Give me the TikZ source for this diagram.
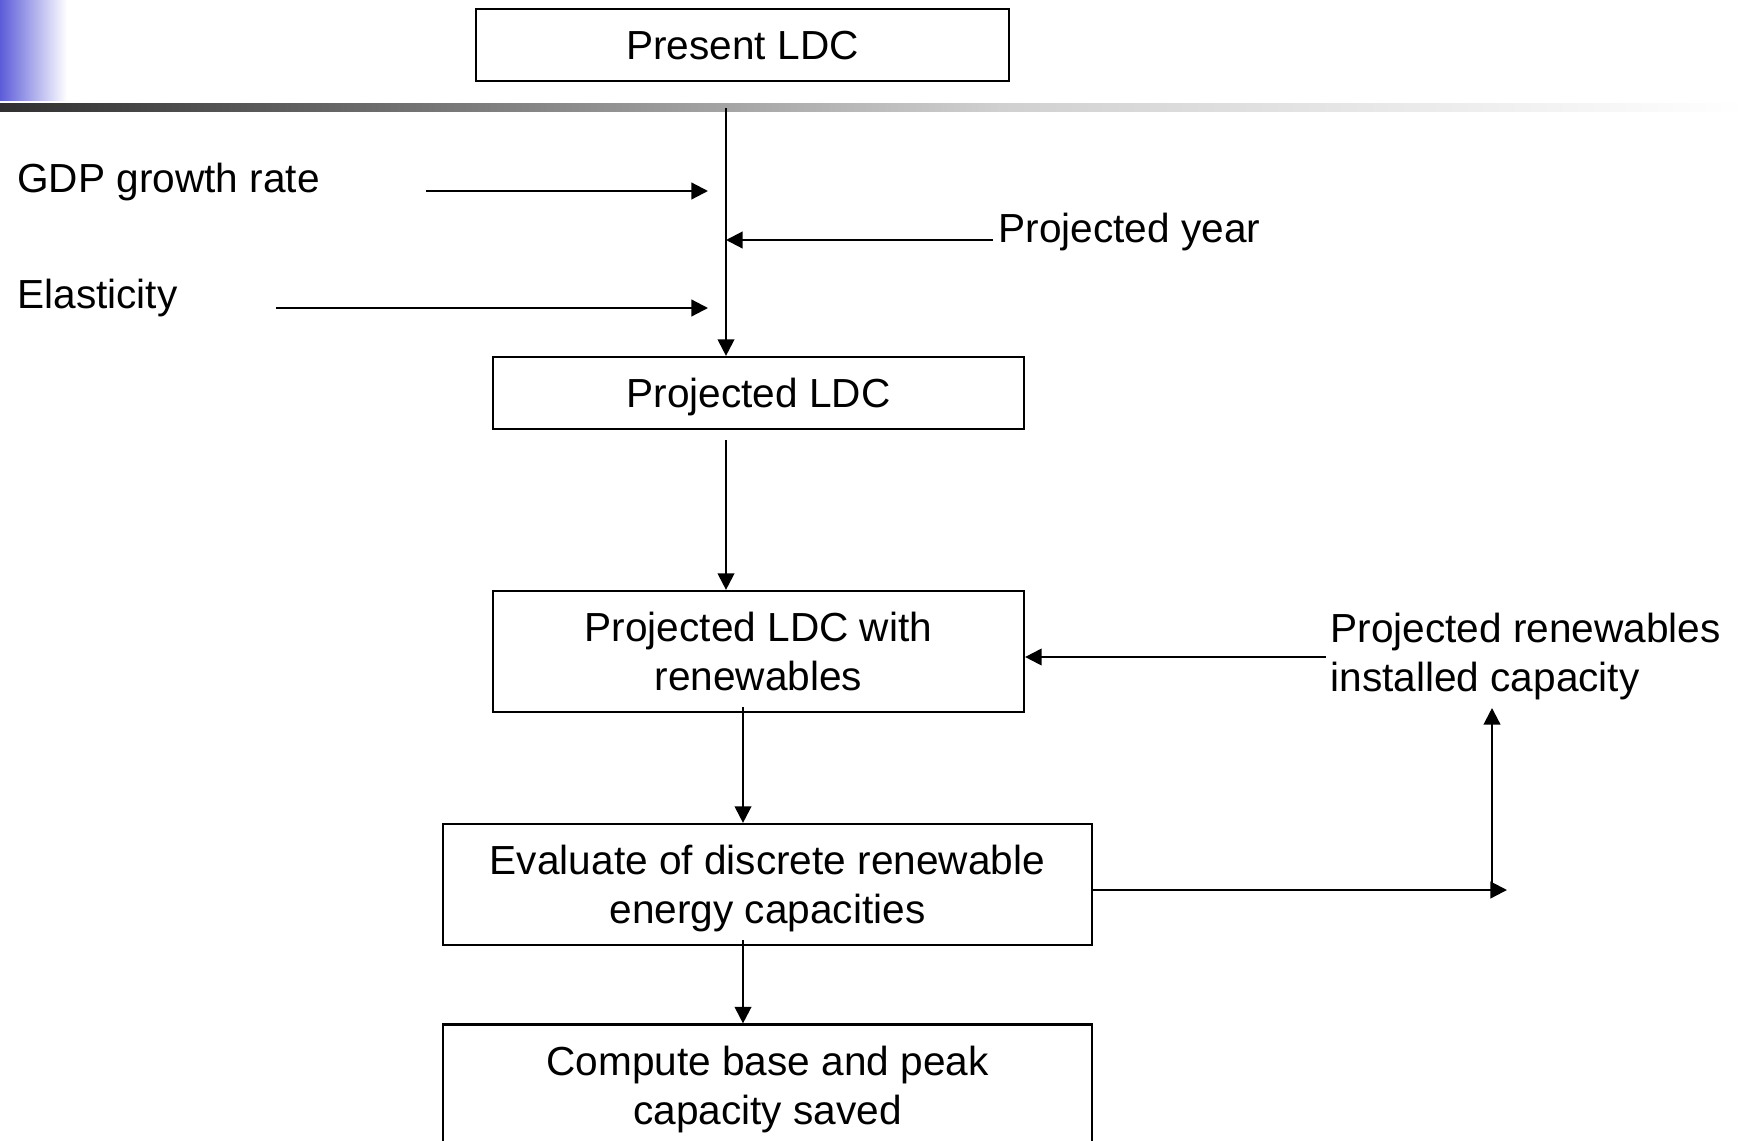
\documentclass[tikz,border=0pt]{standalone}
\usepackage{fontspec}
\setmainfont{Liberation Sans}
\usetikzlibrary{arrows.meta}
\definecolor{accentblue}{RGB}{92,92,216}
\definecolor{barDark}{RGB}{48,48,48}
\definecolor{barMid}{RGB}{208,208,208}
\begin{document}
\begin{tikzpicture}[x=0.5pt,y=-0.5pt,
  font=\fontsize{20.3pt}{24.5pt}\selectfont,
  box/.style={draw, line width=1.1pt, inner sep=0pt, align=center},
  oneline/.style={text height=14.5pt, text depth=0pt},
  nodepth/.style={text depth=0pt},
  label/.style={inner sep=0pt},
  link/.style={line width=1.1pt, -{Triangle[length=8.3pt,width=8.3pt]}},
  plain/.style={line width=1.1pt}]
\useasboundingbox (0,0) rectangle (1744,1140);

% title decoration: fading block and rule
\shade[left color=accentblue, right color=white] (0,0) rectangle (67,100);
\shade[left color=barDark, right color=barMid] (0,103) rectangle (1000,111);
\shade[left color=barMid, right color=white] (1000,103) rectangle (1744,111);

% process boxes
\node[box, oneline, minimum width=266.5pt, minimum height=36pt] (present) at (742.5,45) {Present LDC};
\node[box, oneline, minimum width=265.5pt, minimum height=36pt] (projected) at (758.5,393) {Projected LDC};
\node[box, minimum width=265.5pt, minimum height=60.5pt] (withren) at (758.5,651.5) {Projected LDC with\\renewables};
\node[box, nodepth, minimum width=324.5pt, minimum height=60.5pt] (evaluate) at (767.5,884.5) {Evaluate of discrete renewable\\energy capacities};
\node[box, nodepth, minimum width=324.5pt, minimum height=60.5pt] (compute) at (767.5,1085) {Compute base and peak\\capacity saved};

% input labels
\node[label, anchor=base west] (gdp) at (17,192) {GDP growth rate};
\node[label, anchor=base west] (elast) at (17,308) {Elasticity};
\node[label, anchor=base west] (pyear) at (998,242) {Projected year};
\node[label, anchor=north west, align=left] (ren) at (1330,613) {Projected renewables\\installed capacity};

% free ends of the connectors
\coordinate (trunk) at (726,108);
\coordinate (gdpTail) at (426,191);
\coordinate (gdpTip) at (708,191);
\coordinate (elTail) at (276,308);
\coordinate (elTip) at (708,308);
\coordinate (yrTail) at (993,240);
\coordinate (projOut) at (726,440);
\coordinate (renTail) at (1326,657);
\coordinate (withOut) at (743,707);
\coordinate (evalOut) at (743,940);
\coordinate (feedEnd) at (1507,890);
\coordinate (feedCorner) at (1492,890);
\coordinate (feedTip) at (1492,708);

% connectors
\draw[link] (trunk) -- (trunk |- projected.north);
\draw[link] (gdpTail) -- (gdpTip);
\draw[link] (elTail) -- (elTip);
\draw[link] (yrTail) -- (trunk |- yrTail);
\draw[link] (projOut) -- (projOut |- withren.north);
\draw[link] (renTail) -- (withren.east |- renTail);
\draw[link] (withOut) -- (withOut |- evaluate.north);
\draw[link] (evaluate.east |- feedEnd) -- (feedEnd);
\draw[link] (feedCorner) -- (feedTip);
\draw[link] (evalOut) -- (evalOut |- compute.north);
\end{tikzpicture}
\end{document}
